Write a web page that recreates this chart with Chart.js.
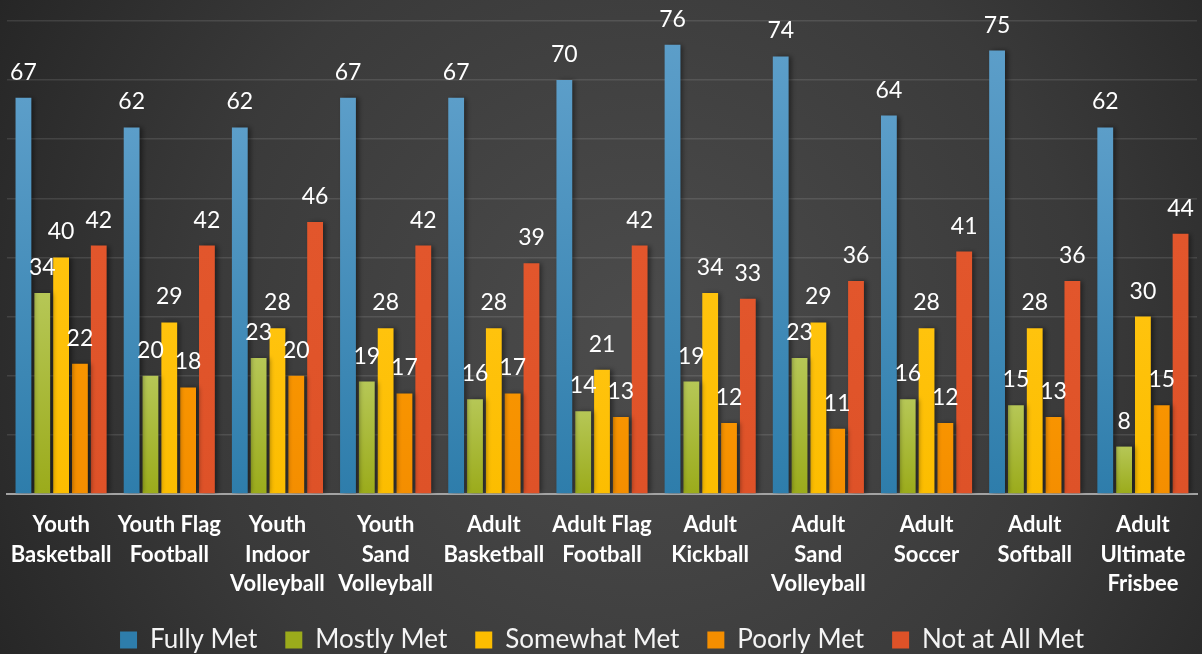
<!DOCTYPE html>
<html>
<head>
<meta charset="utf-8">
<script src="https://cdn.jsdelivr.net/npm/chart.js@4.4.1/dist/chart.umd.min.js"></script>
<style>
  html, body { margin: 0; padding: 0; background: #333; }
  #wrap { width: 1202px; height: 654px; }
</style>
</head>
<body>
<div id="wrap"><canvas id="sportsChart"></canvas></div>
<script>
const categories = [
  ["Youth", "Basketball"],
  ["Youth Flag", "Football"],
  ["Youth", "Indoor", "Volleyball"],
  ["Youth", "Sand", "Volleyball"],
  ["Adult", "Basketball"],
  ["Adult Flag", "Football"],
  ["Adult", "Kickball"],
  ["Adult", "Sand", "Volleyball"],
  ["Adult", "Soccer"],
  ["Adult", "Softball"],
  ["Adult", "Ultimate", "Frisbee"]
];
const seriesNames = ["Fully Met", "Mostly Met", "Somewhat Met", "Poorly Met", "Not at All Met"];
const fullyMet = [67, 62, 62, 67, 67, 70, 76, 74, 64, 75, 62];
const mostlyMet = [34, 20, 23, 19, 16, 14, 19, 23, 16, 15, 8];
const somewhatMet = [40, 29, 28, 28, 28, 21, 34, 29, 28, 28, 30];
const poorlyMet = [22, 18, 20, 17, 17, 13, 12, 11, 12, 13, 15];
const notAtAllMet = [42, 42, 46, 42, 39, 42, 33, 36, 41, 36, 44];

// top / bottom colours for each series (gradient per bar)
const colours = [
  ["#5c9ec9", "#2e7dab"],
  ["#b6c756", "#9bab1b"],
  ["#ffc30d", "#fcbd00"],
  ["#f89400", "#f48e00"],
  ["#e2562c", "#de5228"]
];

function barFill(idx) {
  return function (ctx) {
    const chart = ctx.chart;
    const y = chart.scales.y;
    if (!chart.chartArea || !y || ctx.raw === undefined) return colours[idx][1];
    const top = y.getPixelForValue(ctx.raw);
    const bottom = y.getPixelForValue(0);
    if (!isFinite(top) || !isFinite(bottom) || top === bottom) return colours[idx][1];
    const g = chart.ctx.createLinearGradient(0, top, 0, bottom);
    g.addColorStop(0, colours[idx][0]);
    g.addColorStop(1, colours[idx][1]);
    return g;
  };
}

const allSeries = [fullyMet, mostlyMet, somewhatMet, poorlyMet, notAtAllMet];

// dark radial background like the slide
const backgroundPlugin = {
  id: "bg",
  beforeDraw(chart) {
    const c = chart.ctx;
    const g = c.createRadialGradient(640, 340, 30, 640, 340, 780);
    g.addColorStop(0, "#4b4b4b");
    g.addColorStop(0.55, "#3a3a3a");
    g.addColorStop(1, "#222222");
    c.save();
    c.fillStyle = g;
    c.fillRect(0, 0, chart.width, chart.height);
    c.restore();
  }
};

// soft shadow behind the bars
const shadowPlugin = {
  id: "barShadow",
  beforeDatasetsDraw(chart) {
    const c = chart.ctx;
    c.save();
    c.shadowColor = "rgba(0,0,0,0.45)";
    c.shadowBlur = 5;
    c.shadowOffsetX = 3;
    c.shadowOffsetY = 0;
  },
  afterDatasetsDraw(chart) {
    chart.ctx.restore();
  }
};

// value labels above every bar
const valueLabels = {
  id: "valueLabels",
  afterDatasetsDraw(chart) {
    const c = chart.ctx;
    c.save();
    c.fillStyle = "#ffffff";
    c.font = "23px Lato";
    c.textAlign = "center";
    c.textBaseline = "alphabetic";
    chart.data.datasets.forEach((ds, i) => {
      chart.getDatasetMeta(i).data.forEach((bar, j) => {
        c.fillText(ds.data[j], bar.x, bar.y - 18);
      });
    });
    c.restore();
  }
};

new Chart(document.getElementById("sportsChart"), {
  type: "bar",
  data: {
    labels: categories,
    datasets: seriesNames.map((name, i) => ({
      label: name,
      data: allSeries[i],
      backgroundColor: barFill(i),
      borderWidth: 0,
      categoryPercentage: 0.87,
      barPercentage: 0.84
    }))
  },
  options: {
    responsive: true,
    maintainAspectRatio: false,
    animation: false,
    layout: { padding: { left: 7, right: 5, top: 21, bottom: -9 } },
    plugins: {
      tooltip: { enabled: false },
      legend: {
        position: "bottom",
        labels: {
          color: "#f4f4f4",
          font: { family: "Lato", size: 26 },
          boxWidth: 17,
          boxHeight: 17,
          padding: 28,
          generateLabels(chart) {
            return chart.data.datasets.map((ds, i) => ({
              text: ds.label,
              fillStyle: colours[i][1],
              strokeStyle: colours[i][1],
              lineWidth: 0,
              fontColor: "#f4f4f4",
              datasetIndex: i
            }));
          }
        }
      }
    },
    scales: {
      x: {
        // invisible tick marks push the labels down without adding side padding
        grid: { display: false, drawTicks: true, tickLength: 17, tickColor: "transparent" },
        border: { display: true, color: "#a3a3a3", width: 2 },
        ticks: {
          color: "#ffffff",
          font: { family: "Lato", size: 22, weight: "bold", lineHeight: 1.32 },
          autoSkip: false,
          maxRotation: 0,
          padding: 0
        },
        afterFit(scale) {
          scale.height += 1;
        }
      },
      y: {
        min: 0,
        max: 80,
        ticks: { display: false, stepSize: 10 },
        grid: { color: "rgba(255,255,255,0.11)", lineWidth: 1.5, drawTicks: false },
        border: { display: false }
      }
    }
  },
  plugins: [backgroundPlugin, shadowPlugin, valueLabels]
});
</script>
</body>
</html>
